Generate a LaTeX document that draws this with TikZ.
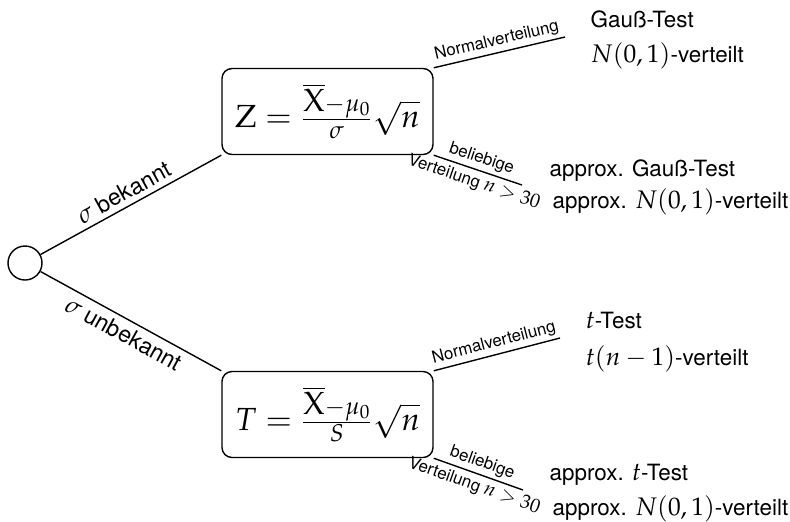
\documentclass[tikz,border=0pt]{standalone}
\usepackage{mathpazo}
\usepackage[no-math]{fontspec}
\setmainfont{TeX Gyre Heros}
\newcommand\bmath[1]{{\fontsize{12.7}{14}\selectfont$#1$}}
\newcommand\smath[1]{{\fontsize{9.8}{11}\selectfont$#1$}}
\begin{document}
\begin{tikzpicture}[x=0.5pt,y=-0.5pt, line width=0.7pt,
  txt/.style={font=\fontsize{11.2}{13}\selectfont, inner sep=0pt, anchor=base west},
  lbl/.style={font=\fontsize{8.4}{10}\selectfont, inner sep=1.5pt},
  edgelbl/.style={font=\fontsize{11.5}{13}\selectfont, inner sep=2.5pt},
  fbox/.style={draw, rounded corners=5pt, minimum width=105.5pt, minimum height=43pt, inner sep=0pt, font=\fontsize{16}{19}\selectfont}]
\useasboundingbox (0,0) rectangle (790,521);
\node[draw, circle, minimum size=17pt, inner sep=0pt] (root) at (25,263) {};
\node[fbox] (Z) at (327.5,111.5) {$\mathrm{Z}=\frac{\overline{\mbox{$\mathrm{X}$}}-\mu_0}{\sigma}\sqrt{n}$};
\node[fbox] (T) at (327.5,414.5) {$T=\frac{\overline{\mbox{$\mathrm{X}$}}-\mu_0}{S}\sqrt{n}$};
\coordinate (n1) at (565,37);
\coordinate (b1) at (522,185);
\coordinate (n2) at (560,338);
\coordinate (b2) at (523,490);
\draw (root) -- node[midway, above, sloped, edgelbl]{\bmath{\sigma} bekannt} (Z.south west);
\draw (root) -- node[midway, below, sloped, edgelbl]{\bmath{\sigma} unbekannt} (T.north west);
\draw (Z.north east) -- node[midway, above, sloped, lbl]{Normalverteilung} (n1);
\draw (Z.south east) -- node[midway, above, sloped, lbl]{beliebige} node[midway, below, sloped, lbl]{Verteilung \smath{n>30}} (b1);
\draw (T.north east) -- node[midway, above, sloped, lbl]{Normalverteilung} (n2);
\draw (T.south east) -- node[midway, above, sloped, lbl]{beliebige} node[midway, below, sloped, lbl]{Verteilung \smath{n>30}} (b2);
\node[txt] (g1) at (590,27) {Gauß-Test};
\node[txt] (g2) at (590,62) {\bmath{N(0,1)}-verteilt};
\node[txt] (g3) at (549,176) {approx. Gauß-Test};
\node[txt] (g4) at (552,208) {approx. \bmath{N(0,1)}-verteilt};
\node[txt] (t1) at (585,328) {\bmath{t}-Test};
\node[txt] (t2) at (585,365) {\bmath{t(n-1)}-verteilt};
\node[txt] (t3) at (549,480) {approx. \bmath{t}-Test};
\node[txt] (t4) at (552,515) {approx. \bmath{N(0,1)}-verteilt};
\end{tikzpicture}
\end{document}
